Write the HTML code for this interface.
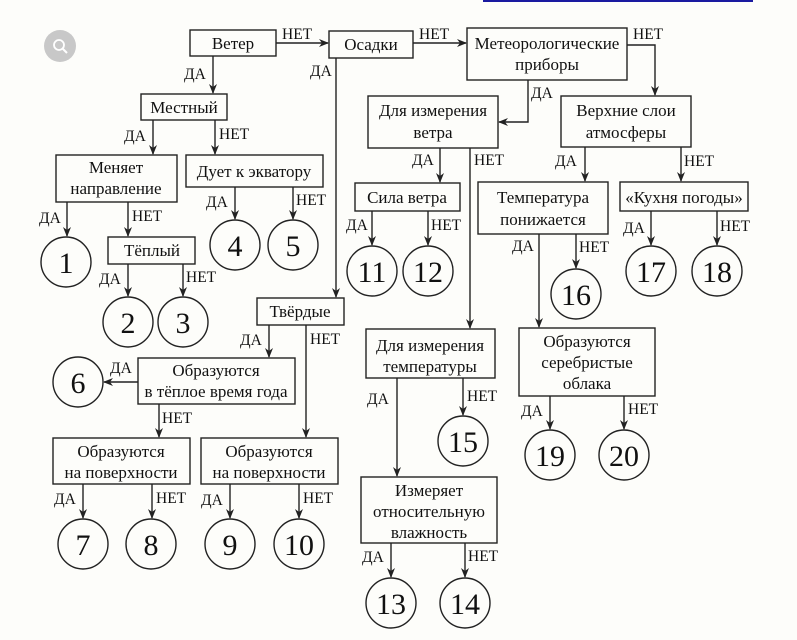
<!DOCTYPE html>
<html><head><meta charset="utf-8"><style>
html,body{margin:0;padding:0;background:#fdfdfa;}
svg{display:block;}
text{font-family:"Liberation Serif",serif;fill:#111;}
.t{font-size:17px;text-anchor:middle;}
.l{font-size:15.5px;}
.n{font-size:30px;text-anchor:middle;}
rect,circle{fill:none;stroke:#222;stroke-width:1.4;}
.a{stroke:#222;stroke-width:1.4;fill:none;marker-end:url(#ar);}
</style></head><body>
<svg width="797" height="640" viewBox="0 0 797 640" xmlns="http://www.w3.org/2000/svg">
<defs><marker id="ar" markerWidth="10" markerHeight="10" refX="9" refY="5" orient="auto" markerUnits="userSpaceOnUse"><path d="M0,1 L10,5 L0,9 L3,5 z" fill="#222"/></marker></defs>
<line x1="483" y1="1" x2="753" y2="1" stroke="#1a1aa0" stroke-width="2"/>
<circle cx="60" cy="46" r="16" style="fill:#c8c8c8;stroke:none"/>
<circle cx="59" cy="45" r="5" style="stroke:#fff;stroke-width:1.8"/>
<line x1="63" y1="49" x2="67" y2="53" stroke="#fff" stroke-width="2"/>

<rect x="190" y="30" width="86" height="26"/><text class="t" x="233" y="49">Ветер</text>
<rect x="329" y="31" width="84" height="27"/><text class="t" x="371" y="50">Осадки</text>
<rect x="467" y="28" width="160" height="52"/><text class="t" x="547" y="49">Метеорологические</text><text class="t" x="547" y="70">приборы</text>
<rect x="141" y="94" width="86" height="26"/><text class="t" x="184" y="113">Местный</text>
<rect x="368" y="96" width="130" height="52"/><text class="t" x="433" y="116">Для измерения</text><text class="t" x="433" y="138">ветра</text>
<rect x="561" y="96" width="130" height="51"/><text class="t" x="626" y="116">Верхние слои</text><text class="t" x="626" y="138">атмосферы</text>
<rect x="56" y="155" width="121" height="47"/><text class="t" x="116" y="173">Меняет</text><text class="t" x="116" y="194">направление</text>
<rect x="186" y="155" width="137" height="32"/><text class="t" x="254" y="177">Дует к экватору</text>
<rect x="355" y="183" width="105" height="28"/><text class="t" x="407" y="203">Сила ветра</text>
<rect x="478" y="182" width="130" height="52"/><text class="t" x="543" y="203">Температура</text><text class="t" x="543" y="225">понижается</text>
<rect x="620" y="182" width="128" height="29"/><text class="t" x="684" y="203">«Кухня погоды»</text>
<rect x="108" y="237" width="87" height="27"/><text class="t" x="152" y="256">Тёплый</text>
<rect x="257" y="298" width="87" height="27"/><text class="t" x="300" y="317">Твёрдые</text>
<rect x="366" y="329" width="129" height="49"/><text class="t" x="430" y="351">Для измерения</text><text class="t" x="430" y="372">температуры</text>
<rect x="519" y="328" width="136" height="68"/><text class="t" x="587" y="347">Образуются</text><text class="t" x="587" y="368">серебристые</text><text class="t" x="587" y="389">облака</text>
<rect x="138" y="358" width="157" height="46"/><text class="t" x="216" y="376">Образуются</text><text class="t" x="216" y="397">в тёплое время года</text>
<rect x="53" y="438" width="137" height="46"/><text class="t" x="121" y="457">Образуются</text><text class="t" x="121" y="478">на поверхности</text>
<rect x="201" y="438" width="137" height="46"/><text class="t" x="269" y="457">Образуются</text><text class="t" x="269" y="478">на поверхности</text>
<rect x="361" y="477" width="136" height="66"/><text class="t" x="429" y="496">Измеряет</text><text class="t" x="429" y="517">относительную</text><text class="t" x="429" y="538">влажность</text>

<circle cx="66" cy="262" r="25"/><text class="n" x="66" y="273">1</text>
<circle cx="128" cy="322" r="25"/><text class="n" x="128" y="333">2</text>
<circle cx="183" cy="322" r="25"/><text class="n" x="183" y="333">3</text>
<circle cx="235" cy="245" r="25"/><text class="n" x="235" y="256">4</text>
<circle cx="293" cy="245" r="25"/><text class="n" x="293" y="256">5</text>
<circle cx="78" cy="382" r="25"/><text class="n" x="78" y="393">6</text>
<circle cx="83" cy="544" r="25"/><text class="n" x="83" y="555">7</text>
<circle cx="151" cy="544" r="25"/><text class="n" x="151" y="555">8</text>
<circle cx="230" cy="544" r="25"/><text class="n" x="230" y="555">9</text>
<circle cx="299" cy="544" r="25"/><text class="n" x="299" y="555">10</text>
<circle cx="372" cy="271" r="25"/><text class="n" x="372" y="282">11</text>
<circle cx="428" cy="271" r="25"/><text class="n" x="428" y="282">12</text>
<circle cx="391" cy="603" r="25"/><text class="n" x="391" y="614">13</text>
<circle cx="465" cy="603" r="25"/><text class="n" x="465" y="614">14</text>
<circle cx="463" cy="441" r="25"/><text class="n" x="463" y="452">15</text>
<circle cx="576" cy="294" r="25"/><text class="n" x="576" y="305">16</text>
<circle cx="651" cy="271" r="25"/><text class="n" x="651" y="282">17</text>
<circle cx="717" cy="271" r="25"/><text class="n" x="717" y="282">18</text>
<circle cx="550" cy="455" r="25"/><text class="n" x="550" y="466">19</text>
<circle cx="624" cy="455" r="25"/><text class="n" x="624" y="466">20</text>

<path class="a" d="M276,43 H328"/><text class="l" x="282" y="39">НЕТ</text>
<path class="a" d="M213,56 V93"/><text class="l" x="184" y="79">ДА</text>
<path class="a" d="M336,58 V297"/><text class="l" x="310" y="76">ДА</text>
<path class="a" d="M413,43 H466"/><text class="l" x="419" y="39">НЕТ</text>
<path class="a" d="M528,80 V122 H499"/><text class="l" x="531" y="98">ДА</text>
<path class="a" d="M627,45 H655 V95"/><text class="l" x="633" y="39">НЕТ</text>
<path class="a" d="M153,120 V154"/><text class="l" x="124" y="141">ДА</text>
<path class="a" d="M215,120 V154"/><text class="l" x="219" y="139">НЕТ</text>
<path class="a" d="M67,202 V236"/><text class="l" x="39" y="223">ДА</text>
<path class="a" d="M128,202 V236"/><text class="l" x="132" y="221">НЕТ</text>
<path class="a" d="M128,264 V296"/><text class="l" x="99" y="284">ДА</text>
<path class="a" d="M183,264 V296"/><text class="l" x="186" y="282">НЕТ</text>
<path class="a" d="M235,187 V219"/><text class="l" x="206" y="207">ДА</text>
<path class="a" d="M293,187 V219"/><text class="l" x="296" y="205">НЕТ</text>
<path class="a" d="M440,148 V182"/><text class="l" x="412" y="165">ДА</text>
<path class="a" d="M470,148 V328"/><text class="l" x="474" y="165">НЕТ</text>
<path class="a" d="M372,211 V245"/><text class="l" x="346" y="230">ДА</text>
<path class="a" d="M428,211 V245"/><text class="l" x="431" y="230">НЕТ</text>
<path class="a" d="M585,147 V181"/><text class="l" x="555" y="166">ДА</text>
<path class="a" d="M681,147 V181"/><text class="l" x="684" y="166">НЕТ</text>
<path class="a" d="M539,234 V327"/><text class="l" x="512" y="251">ДА</text>
<path class="a" d="M576,234 V268"/><text class="l" x="579" y="252">НЕТ</text>
<path class="a" d="M651,211 V245"/><text class="l" x="623" y="233">ДА</text>
<path class="a" d="M717,211 V245"/><text class="l" x="720" y="231">НЕТ</text>
<path class="a" d="M269,325 V357"/><text class="l" x="240" y="345">ДА</text>
<path class="a" d="M306,325 V437"/><text class="l" x="310" y="344">НЕТ</text>
<path class="a" d="M138,382 H104"/><text class="l" x="110" y="373">ДА</text>
<path class="a" d="M159,404 V437"/><text class="l" x="162" y="423">НЕТ</text>
<path class="a" d="M83,484 V518"/><text class="l" x="54" y="504">ДА</text>
<path class="a" d="M152,484 V518"/><text class="l" x="156" y="503">НЕТ</text>
<path class="a" d="M230,484 V518"/><text class="l" x="201" y="505">ДА</text>
<path class="a" d="M299,484 V518"/><text class="l" x="303" y="503">НЕТ</text>
<path class="a" d="M397,378 V476"/><text class="l" x="367" y="404">ДА</text>
<path class="a" d="M463,378 V415"/><text class="l" x="467" y="401">НЕТ</text>
<path class="a" d="M550,396 V429"/><text class="l" x="521" y="416">ДА</text>
<path class="a" d="M624,396 V429"/><text class="l" x="628" y="414">НЕТ</text>
<path class="a" d="M391,543 V577"/><text class="l" x="362" y="562">ДА</text>
<path class="a" d="M465,543 V577"/><text class="l" x="468" y="561">НЕТ</text>
</svg>
</body></html>
